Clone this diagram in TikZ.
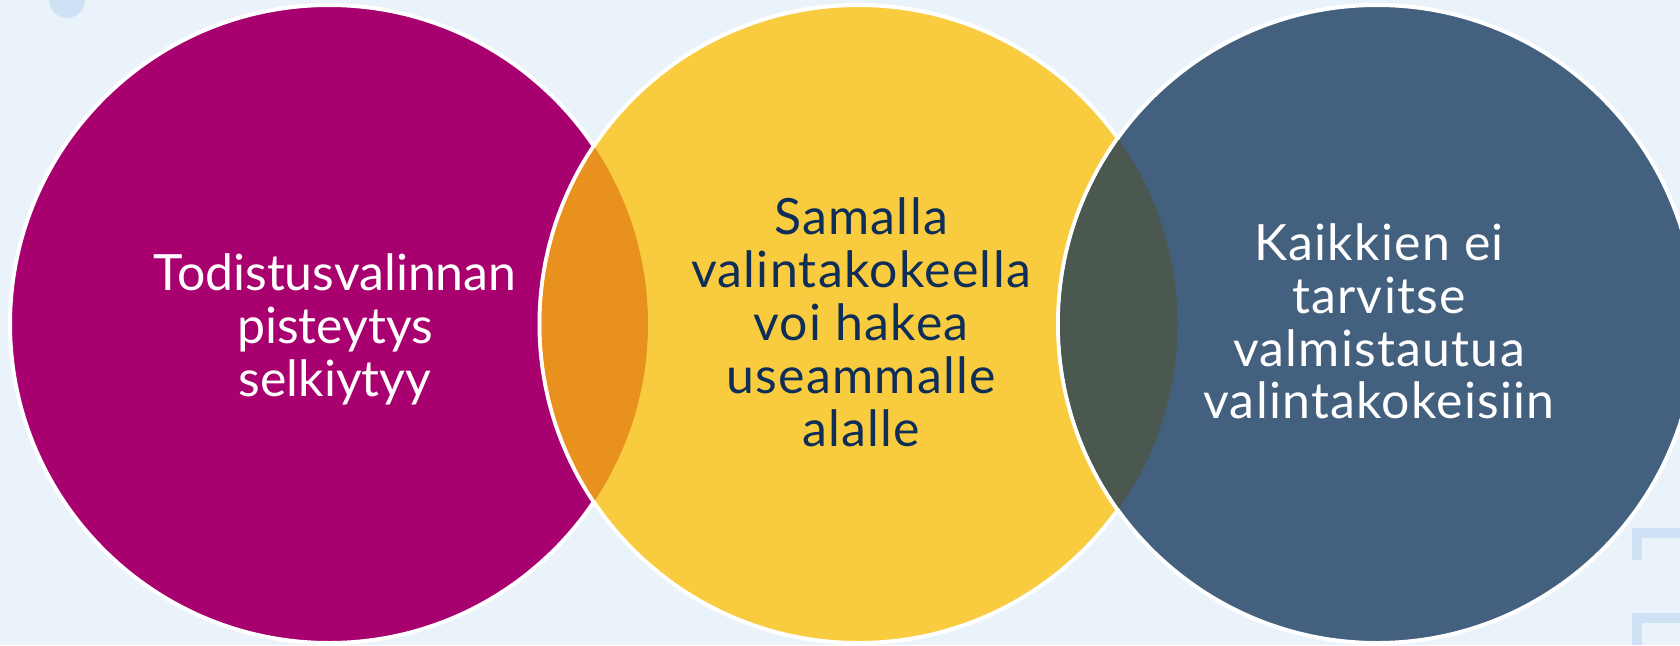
\documentclass[tikz,border=0pt]{standalone}
\usepackage{fontspec}
\setmainfont{Lato}
\newfontfamily\midfont[LetterSpace=2.6]{Lato}
\newfontfamily\widefont[LetterSpace=2.5]{Lato}

\definecolor{pagebg}{HTML}{EAF2FA}
\definecolor{decoblue}{HTML}{CFE2F5}
\definecolor{plum}{HTML}{A8006F}
\definecolor{sun}{HTML}{F9CC3F}
\definecolor{slate}{HTML}{44607F}
\definecolor{lensorange}{HTML}{E9911F}
\definecolor{lensdark}{HTML}{4A5850}
\definecolor{navy}{HTML}{0E2E58}

\begin{document}
\begin{tikzpicture}[x=1pt, y=-1pt]

    \useasboundingbox (0,0) rectangle (1680,645);
    \clip (0,0) rectangle (1680,645);
    \fill[pagebg] (0,0) rectangle (1680,645);

    \fill[decoblue] (67,0) circle [radius=18];
    \fill[decoblue] (1632,528) rectangle (1680,538);
    \fill[decoblue] (1632,528) rectangle (1642,560);
    \fill[decoblue] (1632,613) rectangle (1680,623);
    \fill[decoblue] (1632,613) rectangle (1642,645);

    \coordinate (todistus) at (329,324);
    \coordinate (samalla) at (858.5,324);
    \coordinate (kaikkien) at (1377,324);

    \draw[white, line width=4, fill=plum] (todistus) circle [radius=319];
    \draw[white, line width=4, fill=sun] (samalla) circle [radius=319];
    \draw[white, line width=4, fill=slate] (kaikkien) circle [radius=319];

    \begin{scope}
        \clip (samalla) circle [radius=317];
        \fill[lensorange] (todistus) circle [radius=319];
    \end{scope}
    \begin{scope}
        \clip (kaikkien) circle [radius=317];
        \fill[lensdark] (samalla) circle [radius=319];
    \end{scope}

    \node[white, align=center, font=\fontsize{50}{53}\selectfont] (todistusteksti) at (335,329) {Todistusvalinnan\\pisteytys\\selkiytyy};

    \node[navy, align=center, font=\midfont\fontsize{50}{53}\selectfont] (samallateksti) at (861,322.5) {Samalla\\valintakokeella\\voi hakea\\useammalle\\alalle};

    \node[white, align=center, font=\widefont\fontsize{50}{52.7}\selectfont] (kaikkienteksti) at (1379,321.5) {Kaikkien ei\\tarvitse\\valmistautua\\valintakokeisiin};

\end{tikzpicture}
\end{document}
